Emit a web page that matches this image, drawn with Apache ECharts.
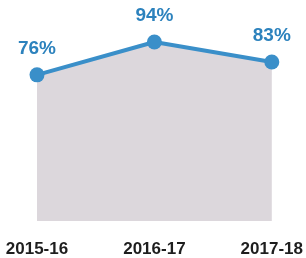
<!DOCTYPE html>
<html><head><meta charset="utf-8">
<script src="https://cdn.jsdelivr.net/npm/echarts@6/dist/echarts.min.js"></script>
<style>html,body{margin:0;padding:0;background:#fff;}#c{width:306px;height:258px;}</style>
</head><body><div id="c"></div>
<script>
const categories = ['2015-16', '2016-17', '2017-18'];
const values = [76, 94, 83];
const chart = echarts.init(document.getElementById('c'));
chart.setOption({
  animation: false,
  grid: { left: 37, right: 34, top: 31, bottom: 36 },
  xAxis: {
    type: 'category', data: categories, boundaryGap: false,
    axisLine: { show: false }, axisTick: { show: false }, splitLine: { show: false },
    axisLabel: { color: '#1e1e1e', fontSize: 17, fontWeight: 'bold', fontFamily: 'Liberation Sans', margin: 20 }
  },
  yAxis: { type: 'value', min: -4, max: 100, show: false, splitLine: { show: false } },
  series: [{
    type: 'line', data: values,
    symbol: 'circle', symbolSize: 15,
    itemStyle: { color: '#3a8fc9' },
    lineStyle: { color: '#3a8fc9', width: 4 },
    areaStyle: { color: '#dcd7dc', opacity: 1, origin: 'start' },
    label: {
      show: true, position: 'top', distance: 9,
      formatter: p => p.value + '%',
      color: '#2c82bd', fontSize: 19, fontWeight: 'bold', fontFamily: 'Liberation Sans'
    }
  }]
});
</script></body></html>
